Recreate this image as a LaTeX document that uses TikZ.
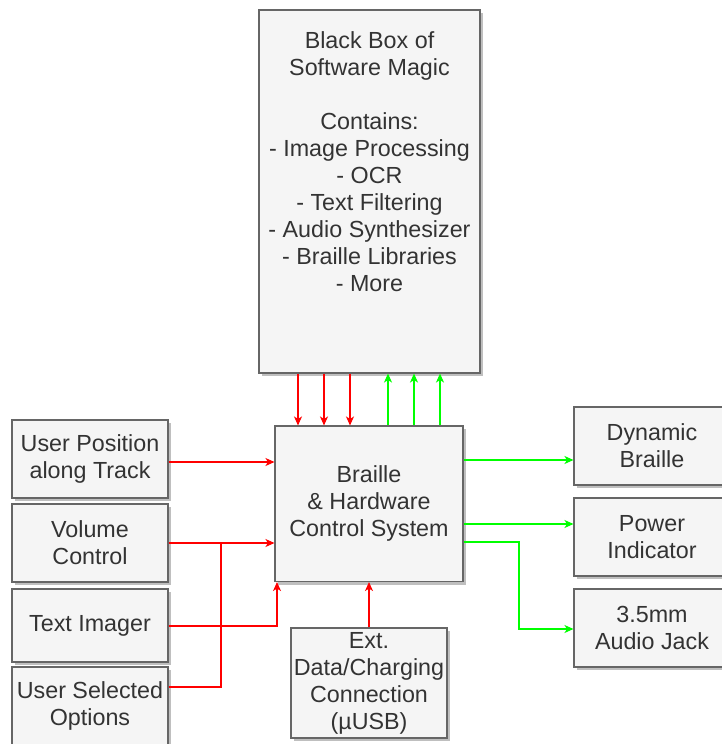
\documentclass[tikz,border=0pt]{standalone}
\usepackage{fontspec}
\setmainfont{Liberation Sans}
\usetikzlibrary{arrows.meta,shadows,calc}
\definecolor{boxfill}{HTML}{F5F5F5}
\definecolor{boxline}{HTML}{666666}
\definecolor{boxtext}{HTML}{333333}
\definecolor{cred}{HTML}{FF0000}
\definecolor{cgreen}{HTML}{00FF00}
\tikzset{
  box/.style={draw=boxline, line width=1.1pt, fill=boxfill, text=boxtext, inner sep=0pt,
    align=center, font=\fontsize{23.3}{27}\selectfont,
    drop shadow={shadow xshift=3pt, shadow yshift=-3pt, fill=black, opacity=0.25}},
  txt/.style={text=boxtext, inner sep=0pt, align=center, font=\fontsize{23.3}{27}\selectfont},
  redarrow/.style={draw=cred, line width=1.2pt, -{Stealth[length=9pt,width=8pt,inset=2.5pt]}},
  greenarrow/.style={draw=cgreen, line width=1.2pt, -{Stealth[length=9pt,width=8pt,inset=2.5pt]}},
  redline/.style={draw=cred, line width=1.2pt},
}
\begin{document}
\begin{tikzpicture}[x=1pt,y=-1pt]
\useasboundingbox (0,0) rectangle (722,744);
% boxes
\node[box, minimum width=221pt, minimum height=363pt] (bb) at (369.5,191.5) {};
\node[txt] (bbtext) at (369.5,162) {Black Box of\\Software Magic\\[27pt]Contains:\\- Image Processing\\- OCR\\- Text Filtering\\- Audio Synthesizer\\- Braille Libraries\\- More};
\node[box, minimum width=188pt, minimum height=155.5pt] (ctrl) at (369,503.75) {Braille\\\& Hardware\\Control System};
\node[box, minimum width=156pt, minimum height=78pt] (up) at (90,459) {User Position\\along Track};
\node[box, minimum width=156pt, minimum height=78pt] (vol) at (90,543) {Volume\\Control};
\node[box, minimum width=156pt, minimum height=73pt] (img) at (90,625.5) {Text Imager};
\node[box, minimum width=156pt, minimum height=78pt] (opt) at (90,706) {User Selected\\Options};
\node[box, minimum width=156pt, minimum height=110pt] (ext) at (369,683) {Ext.\\Data/Charging\\Connection\\(µUSB)};
\node[box, minimum width=156pt, minimum height=78pt] (dyn) at (652,446) {Dynamic\\Braille};
\node[box, minimum width=156pt, minimum height=78pt] (pow) at (652,537) {Power\\Indicator};
\node[box, minimum width=156pt, minimum height=78pt] (jack) at (652,628) {3.5mm\\Audio Jack};
% helper coordinates
\coordinate (r1) at (298,0);
\coordinate (r2) at (324,0);
\coordinate (r3) at (350,0);
\coordinate (g1) at (388,0);
\coordinate (g2) at (414,0);
\coordinate (g3) at (440,0);
\coordinate (yup) at (0,462);
\coordinate (yopt) at (0,687);
\coordinate (yimg) at (0,626);
\coordinate (ximg) at (277,0);
\coordinate (join) at (221,543);
\coordinate (ydyn) at (0,460);
\coordinate (ypow) at (0,524);
\coordinate (yjack) at (0,542);
\coordinate (bend) at (519,629);
% red arrows down
\foreach \c in {r1,r2,r3} \draw[redarrow] (bb.south -| \c) -- (ctrl.north -| \c);
% green arrows up
\foreach \c in {g1,g2,g3} \draw[greenarrow] (ctrl.north -| \c) -- (bb.south -| \c);
% left inputs
\draw[redarrow] (up.east |- yup) -- (ctrl.west |- yup);
\draw[redarrow] (vol.east) -- (ctrl.west |- vol.east);
\draw[redline] (opt.east |- yopt) -| (join);
\draw[redarrow] (img.east |- yimg) -| (ctrl.south -| ximg);
\draw[redarrow] (ext.north) -- (ctrl.south);
% outputs
\draw[greenarrow] (ctrl.east |- ydyn) -- (dyn.west |- ydyn);
\draw[greenarrow] (ctrl.east |- ypow) -- (pow.west |- ypow);
\draw[greenarrow] (ctrl.east |- yjack) -| (bend) -- (jack.west |- bend);
\end{tikzpicture}
\end{document}
